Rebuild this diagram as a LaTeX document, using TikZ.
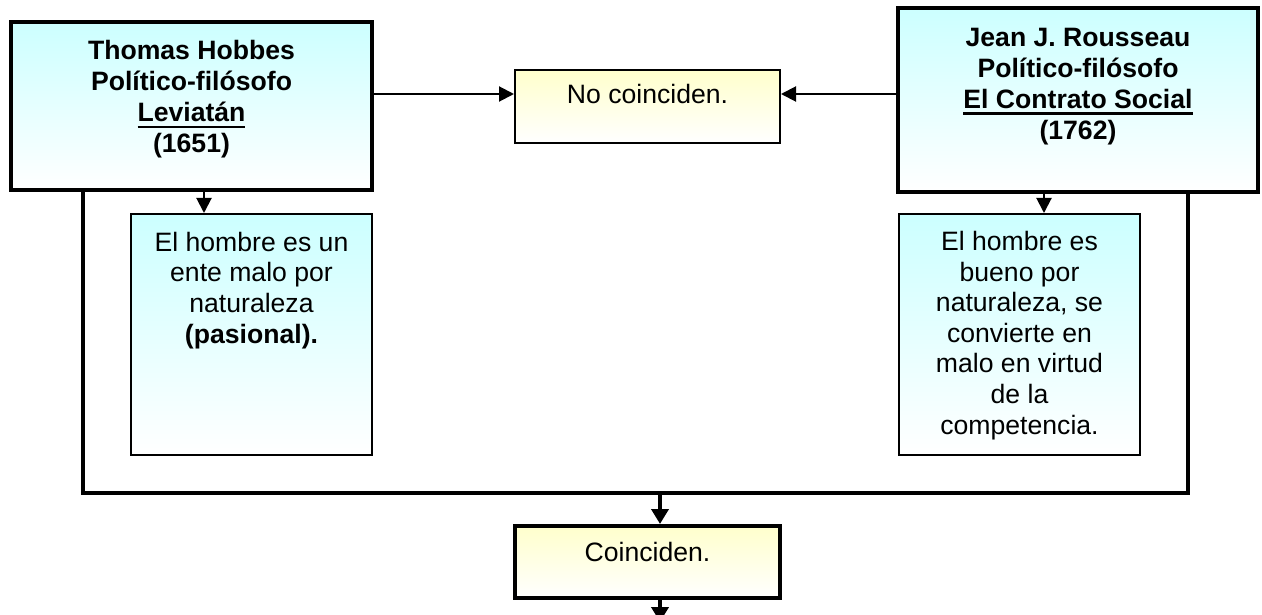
\documentclass[tikz,border=0pt]{standalone}
\usepackage{fontspec}
\setmainfont{Liberation Sans}
\usetikzlibrary{arrows.meta,calc}
% heavy underline for book titles
\newcommand\undl[1]{\leavevmode\setbox0=\hbox{#1}\rlap{\rule[-6.5pt]{\wd0}{2.8pt}}\box0}
\definecolor{boxcyan}{HTML}{CCFFFF}
\definecolor{boxyellow}{HTML}{FFFFCC}
\tikzset{
  plainbox/.style={draw=black, rectangle, inner sep=0pt},
  bigbox/.style={plainbox, line width=4pt, top color=boxcyan, bottom color=white},
  ideabox/.style={plainbox, line width=2pt, top color=boxcyan, bottom color=white},
  notebox/.style={plainbox, line width=2pt, top color=boxyellow, bottom color=white},
  resultbox/.style={plainbox, line width=4pt, top color=boxyellow, bottom color=white},
  % multi-line texts are placed by the baseline of their last line
  titletxt/.style={align=center, inner sep=0pt, anchor=base, font=\fontsize{26.6}{31}\selectfont\bfseries},
  bodytxt/.style={align=center, inner sep=0pt, anchor=base, font=\fontsize{26.6}{30.6}\selectfont},
  link/.style={line width=2pt},
  boldlink/.style={line width=4pt},
  arr/.style={-{Triangle[length=15pt,width=15pt]}},
  boldarr/.style={-{Triangle[length=15pt,width=17pt]}}
}
\begin{document}
\begin{tikzpicture}[x=1pt, y=-1pt]
\useasboundingbox (0,0) rectangle (1262,615);

% authors
\node[bigbox, minimum width=361pt, minimum height=168pt] (hobbes) at (191.5,106.5) {};
\node[titletxt] (hobbesT) at ($(hobbes.north)+(0,132.5)$)
  {Thomas Hobbes\\ Político-filósofo\\ \undl{Leviatán}\\ (1651)};

\node[bigbox, minimum width=360pt, minimum height=184pt] (rou) at (1078,100) {};
\node[titletxt] (rouT) at ($(rou.north)+(0,133.5)$)
  {Jean J. Rousseau\\ Político-filósofo\\ \undl{El Contrato Social}\\ (1762)};

% points of disagreement / agreement
\node[notebox, minimum width=265pt, minimum height=73pt] (nc) at (647.5,106.5) {};
\node[bodytxt] (ncT) at ($(nc.north)+(0,35)$) {No coinciden.};

\node[resultbox, minimum width=265pt, minimum height=72pt] (co) at (647.5,562) {};
\node[bodytxt] (coT) at ($(co.north)+(0,37)$) {Coinciden.};

% views on human nature
\node[ideabox, minimum width=241pt, minimum height=241pt] (sl) at (251.5,334.5) {};
\node[bodytxt] (slT) at ($(sl.north)+(0,130)$)
  {El hombre es un\\ ente malo por\\ naturaleza\\ \textbf{(pasional).}};

\node[ideabox, minimum width=241pt, minimum height=241pt] (sr) at (1019.5,334.5) {};
\node[bodytxt] (srT) at ($(sr.north)+(0,221)$)
  {El hombre es\\ bueno por\\ naturaleza, se\\ convierte en\\ malo en virtud\\ de la\\ competencia.};

% connectors
\draw[link, arr] ($(hobbes.east)+(0,-12.5)$) -- ($(nc.west)+(0,-12.5)$);
\draw[link, arr] ($(rou.west)+(0,-6)$) -- ($(nc.east)+(0,-12.5)$);

\draw[link, arr] ($(hobbes.south)+(12.5,0)$) coordinate (hs) -- (hs |- sl.north);
\draw[link, arr] ($(rou.south)+(-34,0)$) coordinate (rs) -- (rs |- sr.north);

\coordinate (j) at (660,493);
\coordinate (out) at (660,622);
\draw[boldlink] ($(hobbes.south)+(-108.5,0)$) |- (j) -| ($(rou.south)+(110,0)$);
\draw[boldlink, boldarr] (j) -- (j |- co.north);
\draw[boldlink, boldarr] (j |- co.south) -- (out);
\end{tikzpicture}
\end{document}
